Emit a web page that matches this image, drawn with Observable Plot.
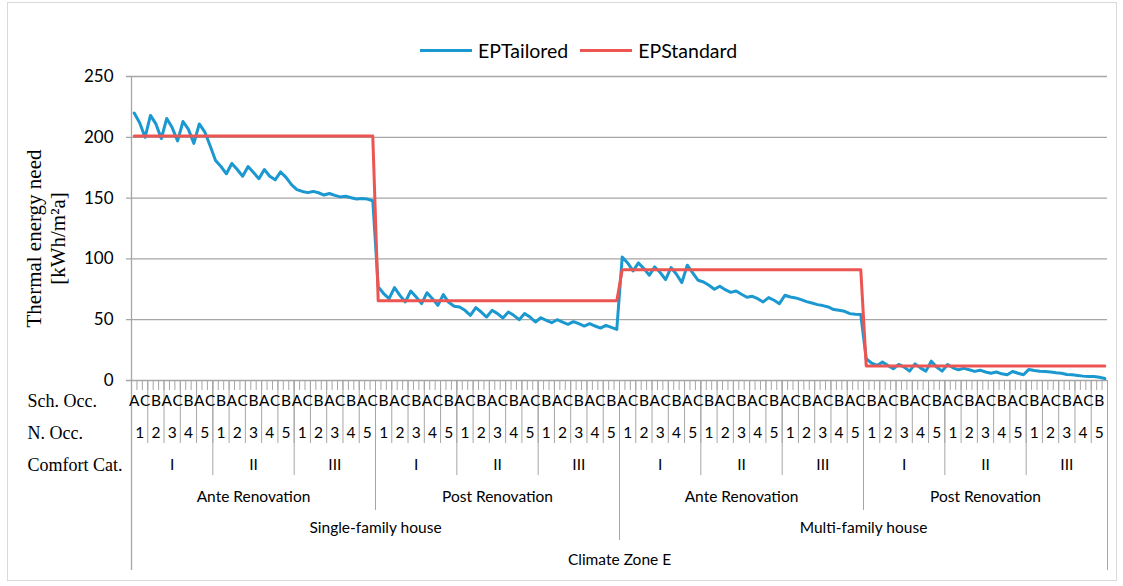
<!DOCTYPE html>
<html><head><meta charset="utf-8">
<script src="https://cdn.jsdelivr.net/npm/d3@7"></script>
<script src="https://cdn.jsdelivr.net/npm/@observablehq/plot@0.6"></script>
<style>
body{margin:0;background:#fff;}
#wrap{position:relative;width:1123px;height:586px;overflow:hidden;background:#fff;}
#frame{position:absolute;left:7px;top:2px;width:1110px;height:579px;border:1px solid #d9d9d9;box-sizing:border-box;pointer-events:none}
#legend{position:absolute;top:38px;left:420px;display:flex;align-items:center;font-family:Lato,sans-serif;font-size:19.5px;color:#000;height:24px;white-space:nowrap}
.sw{display:inline-block;width:52px;height:3px;margin-right:6px}
#chart{position:absolute;top:60px;left:0}
</style></head>
<body><div id="wrap">
<div id="legend"><span class="sw" style="background:#1b98d0"></span><span style="margin-right:12px">EPTailored</span><span class="sw" style="background:#ec5552"></span><span>EPStandard</span></div>
<div id="chart"></div><div id="frame"></div></div>
<script>
// ---- category levels ----
const schedules = ["A", "B", "C"];
const occupants = ["1", "2", "3", "4", "5"];
const comfortCats = ["I", "II", "III"];
const renovations = ["Ante Renovation", "Post Renovation"];
const buildings = ["Single-family house", "Multi-family house"];
const zones = ["Climate Zone E"];
const rowLabels = ["Sch. Occ.", "N. Occ.", "Comfort Cat."];
const yTicks = [0, 50, 100, 150, 200, 250];

// ---- EPTailored values (kWh/m²a), per building × renovation, ordered Comfort > N.Occ > Sch.Occ ----
const sfAnte = [220, 212, 200, 218, 211, 199, 215.5, 208, 197, 213, 206.5, 195, 211, 204.5, 193,
  181, 176, 170, 178.5, 173.5, 168, 176, 171, 166, 173.5, 168, 165, 171.5, 167, 161,
  157, 155.5, 154.5, 155.5, 154.4, 152.5, 153.8, 152.2, 151, 151.5, 150.3, 149.2, 149.6, 149.2, 147.8];
const sfPost = [77, 71.5, 67.3, 76.4, 70, 64.6, 73.6, 68.7, 63.2, 72.2, 67.3, 61.8, 70.6, 64.3, 61,
  60.5, 57.7, 53.6, 59.9, 56.3, 52.2, 57.7, 55, 51.4, 56.3, 53.6, 50, 55, 52.2, 48.1,
  51.6, 49.5, 47.5, 50, 48.1, 46.2, 48.4, 46.7, 44.8, 46.7, 44.8, 43.1, 45.3, 43.7, 42];
const mfAnte = [101.5, 96.7, 90.1, 96.7, 92, 86.6, 93.4, 88.8, 83, 92.9, 87.4, 80.5, 94.8, 88.5, 82.4,
  81, 78.3, 75, 77.5, 74.7, 72.5, 73.6, 70.9, 68.5, 69.2, 67.3, 64.6, 68.2, 66, 63.2,
  70.1, 68.7, 67.9, 66.5, 64.9, 63.7, 62.4, 61.6, 60.5, 58.3, 57.7, 56.9, 55, 54.4, 54.2];
const mfPost = [17.9, 14.3, 12.4, 15.1, 12.4, 9.6, 13.2, 11, 7.7, 13.7, 10.4, 7.7, 15.9, 11, 7.7,
  13.2, 10.4, 8.8, 10, 8.8, 7.5, 8.5, 7, 6, 7, 5.5, 4.7, 7.4, 6, 4.7,
  9.1, 8.2, 7.7, 7.4, 6.9, 6.3, 6, 4.9, 4.7, 4.1, 3.6, 3.3, 3.3, 2.7, 1.6];
// ---- EPStandard levels, per building × renovation ----
const epStandard = [201, 65.5, 91, 12];

// ---- build table ----
const tailoredBlocks = [sfAnte, sfPost, mfAnte, mfPost];
const rows = [];
buildings.forEach((bl, b) => renovations.forEach((rl, r) => {
  const block = tailoredBlocks[b * 2 + r];
  comfortCats.forEach((cl, c) => occupants.forEach((ol, o) => schedules.forEach((sl, s) => {
    const i = (c * occupants.length + o) * schedules.length + s;
    rows.push({k: rows.length, tailored: block[i], standard: epStandard[b * 2 + r], s, o, c, r, b});
  })));
}));
const N = rows.length;
const nS = schedules.length, nO = nS * occupants.length, nC = nO * comfortCats.length,
      nR = nC * renovations.length, nB = nR * buildings.length;

function groupLabels(size, labels) {
  const out = [];
  for (let start = 0; start < N; start += size) {
    const idx = Math.floor(start / size) % labels.length;
    out.push({x: start + (size - 1) / 2, text: labels[idx]});
  }
  return out;
}
const schLabels = rows.filter(d => d.k % 2 === 0).map(d => ({x: d.k, text: schedules[d.s]}));
const occLabels = groupLabels(nS, occupants);
const comfortLabels = groupLabels(nO, comfortCats);
const renLabels = groupLabels(nC, renovations);
const bldLabels = groupLabels(nR, buildings);
const zoneLabels = groupLabels(nB, zones);

const bounds = (step) => d3.range(0, N + 1, step).map(v => v - 0.5).filter(v => v > -0.5 && v < N - 0.5);

const mTop = 16, bottomPx = 320, H = 526;
const plotH = bottomPx - mTop;
const grey = "#a6a6a6";
const sep = (xs, len) => Plot.ruleX(xs, {x: d => d, stroke: grey, strokeWidth: 1, insetTop: plotH, insetBottom: -len});
const labelFont = "Lato, sans-serif";
const serif = "'Liberation Serif', 'Times New Roman', serif";
const lbl = (data, dy, size = 15) => Plot.text(data, {x: "x", text: "text", frameAnchor: "bottom", dy, lineAnchor: "middle", fontFamily: labelFont, fontSize: size, fill: "#000"});

const chart = Plot.plot({
  width: 1123, height: H,
  marginLeft: 131, marginRight: 16, marginTop: mTop, marginBottom: H - bottomPx,
  style: {fontFamily: labelFont, fontSize: "16px", color: "#000", background: "transparent"},
  x: {domain: [-0.5, N - 0.5], axis: null},
  y: {domain: [0, 250], axis: null},
  marks: [
    Plot.ruleY(yTicks, {y: d => d, stroke: grey, strokeWidth: 1.3, insetLeft: -5}),
    Plot.axisY(yTicks, {tickSize: 0, tickPadding: 18, label: null, fontSize: 17, fontFamily: labelFont}),
    // category ticks and group separators
    sep(bounds(1), 10),
    sep(bounds(nS), 63),
    sep(bounds(nO), 95),
    sep(bounds(nC), 130),
    sep(bounds(nR), 160),
    Plot.ruleX([-0.5], {x: d => d, stroke: grey, strokeWidth: 1.3, insetBottom: -190}),
    sep([N - 0.5], 190),
    // labels
    lbl(schLabels, 21, 15.5),
    lbl(occLabels, 53, 15.5),
    lbl(comfortLabels, 85, 15.5),
    lbl(renLabels, 117, 15.5),
    lbl(bldLabels, 148, 15.5),
    lbl(zoneLabels, 180, 15.5),
    ...rowLabels.map((t, i) => Plot.text([t], {text: d => d, frameAnchor: "bottom-left", dx: 27 - 131, dy: 21 + 32 * i, textAnchor: "start", lineAnchor: "middle", fontFamily: serif, fontSize: 18, fill: "#000"})),
    Plot.text(["Thermal energy need\n[kWh/m²a]"], {text: d => d, frameAnchor: "left", dx: 45 - 131, dy: 10, rotate: -90, textAnchor: "middle", lineAnchor: "middle", lineHeight: 1.15, fontFamily: serif, fontSize: 21, fill: "#000"}),
    // series
    Plot.line(rows, {x: "k", y: "tailored", stroke: "#1b98d0", strokeWidth: 3, strokeLinejoin: "round"}),
    Plot.line(rows, {x: "k", y: "standard", stroke: "#ec5552", strokeWidth: 3, strokeLinejoin: "round"})
  ]
});
document.getElementById("chart").appendChild(chart);
</script>
</body></html>
